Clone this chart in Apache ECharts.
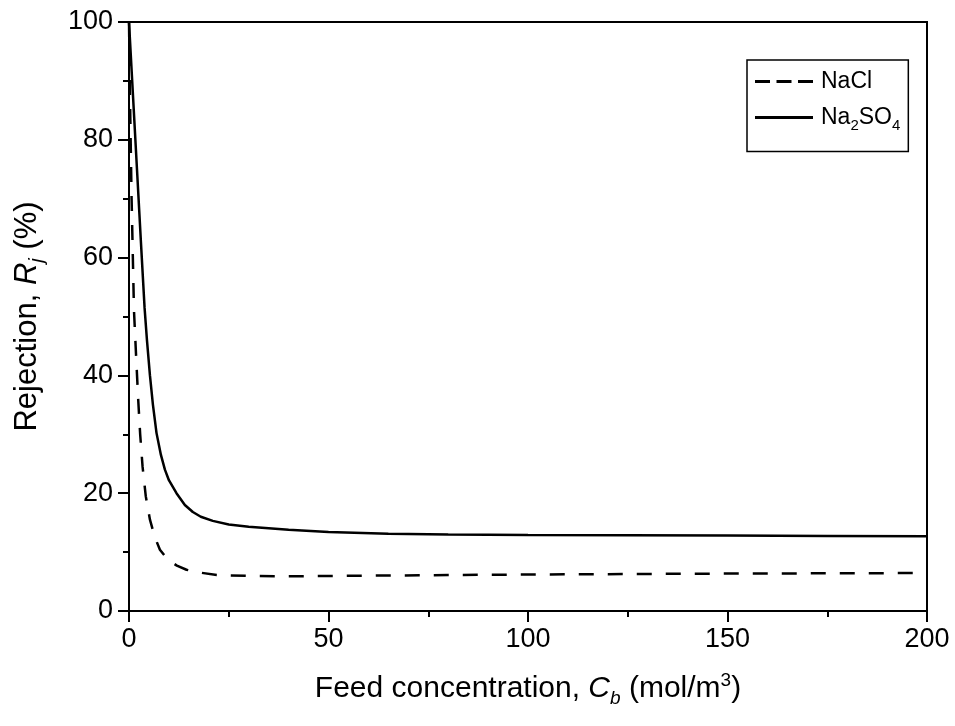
<!DOCTYPE html>
<html>
<head>
<meta charset="utf-8">
<script src="https://cdn.jsdelivr.net/npm/echarts@6/dist/echarts.min.js"></script>
<style>html,body{margin:0;padding:0;background:#fff;}#c{width:955px;height:726px;}</style>
</head>
<body>
<div id="c"></div>
<script>
// Data
var naclX = [0, 0.25, 0.65, 1.25, 1.8, 2.3, 2.8, 3.4, 4.2, 5.25, 6.5, 7.75, 9.75, 12, 14.4, 18, 22, 30, 40, 60, 80, 100, 150, 200];
var naclY = [100, 87, 70, 51, 43, 36, 30, 24.5, 19.5, 15.5, 12.5, 10.4, 8.7, 7.7, 7.0, 6.5, 6.1, 5.95, 5.9, 6.0, 6.1, 6.2, 6.35, 6.45];
var na2so4X = [0, 1, 2, 3, 3.9, 4.5, 5.25, 6, 6.9, 8, 9, 10, 11.9, 14, 16, 18, 21, 25, 30, 40, 50, 65, 80, 100, 125, 150, 175, 200];
var na2so4Y = [100, 87.5, 75, 62.5, 51.5, 46, 40, 35, 30.2, 26.5, 24, 22.2, 20, 18, 16.8, 16, 15.3, 14.7, 14.3, 13.8, 13.4, 13.1, 13.0, 12.9, 12.85, 12.8, 12.75, 12.7];
var xTicks = [0, 50, 100, 150, 200];
var yTicks = [0, 20, 40, 60, 80, 100];
var seriesNames = ['NaCl', 'Na2SO4'];

function pairs(xs, ys) { return xs.map(function (x, i) { return [x, ys[i]]; }); }

var FONT = 'Liberation Sans';
var chart = echarts.init(document.getElementById('c'));
chart.setOption({
  backgroundColor: '#fff',
  animation: false,
  textStyle: { fontFamily: FONT, color: '#000' },
  grid: { left: 129, right: 28, top: 22, bottom: 115, show: true, borderColor: '#000', borderWidth: 2 },
  legend: {
    orient: 'vertical',
    left: 747, top: 60,
    padding: [10, 8, 18, 8],
    itemGap: 13,
    itemWidth: 58, itemHeight: 3,
    borderColor: '#000', borderWidth: 1.5,
    data: [
      { name: seriesNames[0], icon: 'path://M0,0h15v3h-15z M21.5,0h15v3h-15z M43,0h15v3h-15z' },
      { name: seriesNames[1], icon: 'path://M0,0h58v3h-58z' }
    ],
    formatter: function (n) { return n === 'Na2SO4' ? 'Na{sub|2}SO{sub|4}' : n; },
    textStyle: {
      fontFamily: FONT, fontSize: 23, color: '#000', padding: [0, 0, 0, 3],
      rich: { sub: { fontFamily: FONT, fontSize: 15, color: '#000', padding: [17, 0, 0, 0] } }
    }
  },
  xAxis: {
    type: 'value', min: xTicks[0], max: xTicks[xTicks.length - 1], interval: 50,
    name: 'Feed concentration, {i|C}{isub|b} (mol/m{sup|3})',
    nameLocation: 'middle', nameGap: 58,
    nameTextStyle: {
      fontFamily: FONT, fontSize: 30, color: '#000',
      rich: {
        i: { fontFamily: FONT, fontSize: 30, fontStyle: 'italic', color: '#000' },
        isub: { fontFamily: FONT, fontSize: 19, fontStyle: 'italic', color: '#000', padding: [20, 0, 0, 0] },
        sup: { fontFamily: FONT, fontSize: 19, color: '#000', padding: [0, 0, 16, 0] }
      }
    },
    axisLine: { show: true, onZero: false, lineStyle: { color: '#000', width: 2 } },
    axisTick: { show: true, inside: false, length: 11, lineStyle: { color: '#000', width: 2 } },
    minorTick: { show: true, splitNumber: 2, length: 6, lineStyle: { color: '#000', width: 2 } },
    axisLabel: { fontFamily: FONT, fontSize: 27, color: '#000', margin: 15 },
    splitLine: { show: false }
  },
  yAxis: {
    type: 'value', min: yTicks[0], max: yTicks[yTicks.length - 1], interval: 20,
    name: 'Rejection, {i|R}{isub|j} (%)',
    nameLocation: 'middle', nameGap: 82,
    nameTextStyle: {
      fontFamily: FONT, fontSize: 31, color: '#000',
      rich: {
        i: { fontFamily: FONT, fontSize: 31, fontStyle: 'italic', color: '#000' },
        isub: { fontFamily: FONT, fontSize: 20, fontStyle: 'italic', color: '#000', padding: [20, 0, 0, 0] }
      }
    },
    axisLine: { show: true, onZero: false, lineStyle: { color: '#000', width: 2 } },
    axisTick: { show: true, inside: false, length: 11, lineStyle: { color: '#000', width: 2 } },
    minorTick: { show: true, splitNumber: 2, length: 6, lineStyle: { color: '#000', width: 2 } },
    axisLabel: { fontFamily: FONT, fontSize: 27, color: '#000', margin: 16 },
    splitLine: { show: false }
  },
  series: [
    {
      name: seriesNames[0], type: 'line', data: pairs(naclX, naclY),
      smooth: false, symbol: 'none', showSymbol: false,
      lineStyle: { color: '#000', width: 2.5, type: [15, 14] }, itemStyle: { color: '#000' }
    },
    {
      name: seriesNames[1], type: 'line', data: pairs(na2so4X, na2so4Y),
      smooth: false, symbol: 'none', showSymbol: false,
      lineStyle: { color: '#000', width: 2.5, type: 'solid' }, itemStyle: { color: '#000' }
    }
  ]
});
</script>
</body>
</html>
